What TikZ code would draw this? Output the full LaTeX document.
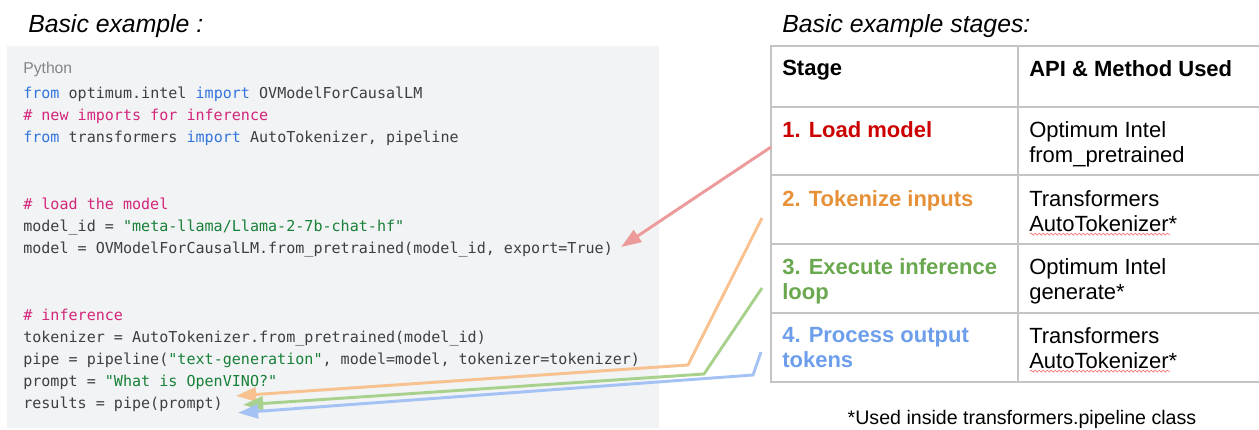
\documentclass[tikz,border=0pt]{standalone}
\usepackage{fontspec}
\setmainfont{Liberation Sans}
\setmonofont{DejaVu Sans Mono}
\usepackage{xcolor}
\usetikzlibrary{arrows.meta,calc,decorations.pathmorphing}

\definecolor{panelgray}{HTML}{F1F3F4}
\definecolor{codegray}{HTML}{3C4043}
\definecolor{labelgray}{HTML}{80868B}
\definecolor{kwblue}{HTML}{3374E0}
\definecolor{cmtpink}{HTML}{D4267A}
\definecolor{strgreen}{HTML}{188038}
\definecolor{tabline}{HTML}{C4C4C4}
\definecolor{stred}{HTML}{CC0000}
\definecolor{storange}{HTML}{E69138}
\definecolor{stgreen}{HTML}{6AA84F}
\definecolor{stblue}{HTML}{6D9EEB}
\definecolor{arrred}{HTML}{EC9A9A}
\definecolor{arrorange}{HTML}{F8C290}
\definecolor{arrgreen}{HTML}{A9D18E}
\definecolor{arrblue}{HTML}{A4C2F4}

\newcommand{\codekw}[1]{\textcolor{kwblue}{#1}}
\newcommand{\codecmt}[1]{\textcolor{cmtpink}{#1}}
\newcommand{\codestr}[1]{\textcolor{strgreen}{#1}}

\begin{document}
\begin{tikzpicture}[x=0.75pt, y=-0.75pt,
  codeline/.style={anchor=base west, inner sep=0pt, text=codegray,
    font=\ttfamily\fontsize{11.3pt}{13pt}\selectfont},
  cell/.style={anchor=north west, inner sep=0pt, align=left,
    font=\fontsize{16.5pt}{18.75pt}\selectfont},
  stagecell/.style={cell, font=\bfseries\fontsize{16.5pt}{18.75pt}\selectfont},
  heading/.style={anchor=base west, inner sep=0pt,
    font=\itshape\fontsize{18.6pt}{22pt}\selectfont},
  gridline/.style={draw=tabline, line width=1.5pt, line cap=rect},
  hint/.style={line width=2.2pt, -{Triangle[length=15pt,width=10.5pt]}},
  squiggle/.style={draw=red!55, line width=0.5pt, decorate,
    decoration={snake, amplitude=0.7pt, segment length=3pt}}]
  \useasboundingbox (0,0) rectangle (1259,429);

  % code panel
  \fill[panelgray] (7,46) rectangle (659,428);
  \node[heading] (codetitle) at (28,32) {Basic example :};
  \node[anchor=base west, inner sep=0pt, text=labelgray,
    font=\fontsize{11.8pt}{14pt}\selectfont] (lang) at (23,73) {Python};
  \node[codeline] (imp1) at (23,98) {\codekw{from} optimum.intel \codekw{import} OVModelForCausalLM};
  \node[codeline] (cmt1) at (23,120) {\codecmt{\# new imports for inference}};
  \node[codeline] (imp2) at (23,142) {\codekw{from} transformers \codekw{import} AutoTokenizer, pipeline};
  \node[codeline] (cmt2) at (23,209) {\codecmt{\# load the model}};
  \node[codeline] (modelid) at (23,231) {model\_id = \codestr{"meta-llama/Llama-2-7b-chat-hf"}};
  \node[codeline] (model) at (23,253) {model = OVModelForCausalLM.from\_pretrained(model\_id, export=True)};
  \node[codeline] (cmt3) at (23,320) {\codecmt{\# inference}};
  \node[codeline] (tok) at (23,342) {tokenizer = AutoTokenizer.from\_pretrained(model\_id)};
  \node[codeline] (pipe) at (23,364) {pipe = pipeline(\codestr{"text-generation"}, model=model, tokenizer=tokenizer)};
  \node[codeline] (prompt) at (23,386) {prompt = \codestr{"What is OpenVINO?"}};
  \node[codeline] (results) at (23,408) {results = pipe(prompt)};

  % stages table
  \node[heading] (tabtitle) at (782,32) {Basic example stages:};
  \foreach \y in {46,107,175,244,313,382}
    \draw[gridline] (771,\y) -- (1262,\y);
  \foreach \x in {771,1018}
    \draw[gridline] (\x,46) -- (\x,382);

  \node[stagecell] (hstage) at (782,60) {Stage};
  \node[stagecell] (hapi) at (1029,60) {API \& Method Used};
  \node[stagecell, text=stred] (s1) at (782,121) {1. Load model};
  \node[cell] (a1) at (1029,121) {Optimum Intel\\from\_pretrained};
  \node[stagecell, text=storange] (s2) at (782,190) {2. Tokenize inputs};
  \node[cell] (a2) at (1029,190) {Transformers\\AutoTokenizer*};
  \node[stagecell, text=stgreen] (s3) at (782,258) {3. Execute inference\\loop};
  \node[cell] (a3) at (1029,258) {Optimum Intel\\generate*};
  \node[stagecell, text=stblue] (s4) at (782,327) {4. Process output\\tokens};
  \node[cell] (a4) at (1029,327) {Transformers\\AutoTokenizer*};
  % spell-check marks
  \draw[squiggle] ($(a2.south west)+(1,2.5)$) -- ++(140,0);
  \draw[squiggle] ($(a4.south west)+(1,2.5)$) -- ++(140,0);

  \node[anchor=base, inner sep=0pt, font=\fontsize{14.7pt}{17pt}\selectfont]
    (note) at (1022,424) {*Used inside transformers.pipeline class};

  % arrows from stages to code
  \coordinate (from1) at (771,147);
  \coordinate (from2) at (762,218);
  \coordinate (from3) at (762,288);
  \coordinate (from4) at (761,352);
  \coordinate (to1) at ($(model.east)+(8,-2)$);
  \coordinate (to2) at ($(results.east)+(13,-8)$);
  \coordinate (to3) at ($(results.east)+(20,1)$);
  \coordinate (to4) at ($(results.east)+(15,9)$);
  \draw[hint, arrred] (from1) -- (to1);
  \draw[hint, arrorange] (from2) -- (688,365) -- (to2);
  \draw[hint, arrgreen] (from3) -- (704,374) -- (to3);
  \draw[hint, arrblue] (from4) -- (753,375) -- (to4);
\end{tikzpicture}
\end{document}
